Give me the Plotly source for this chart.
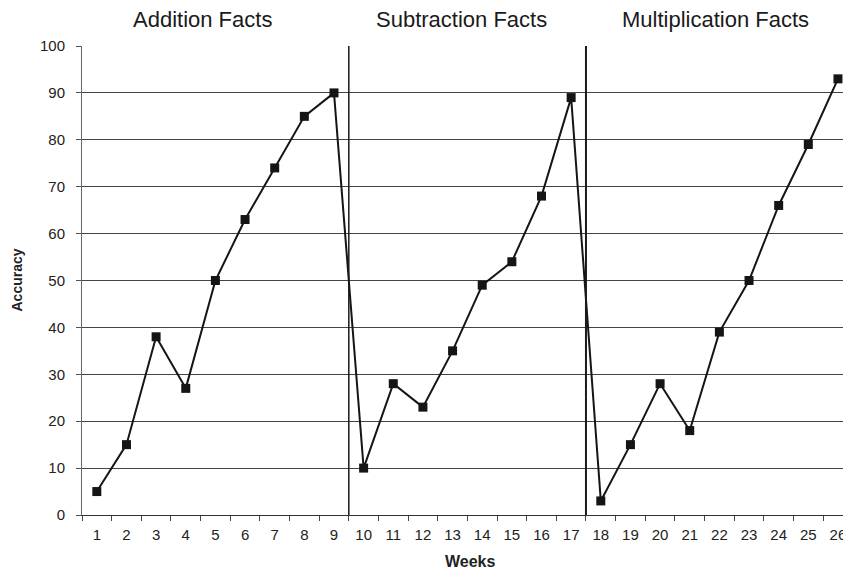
import plotly.graph_objects as go

weeks = [str(w) for w in range(1, 27)]
accuracy = [5, 15, 38, 27, 50, 63, 74, 85, 90,
            10, 28, 23, 35, 49, 54, 68, 89,
            3, 15, 28, 18, 39, 50, 66, 79, 93]
phase_titles = ["Addition Facts", "Subtraction Facts", "Multiplication Facts"]
phase_title_x = [202, 461, 715]  # screen pixel centres
phase_breaks = [8.5, 16.5]  # category index boundaries
y_ticks = list(range(0, 101, 10))

O = 8  # page body margin offset
W, H = 851 - O, 574 - O
# desired plot area in screen pixels (visible area ends at 843)
SL, ST, SR, SB = 82, 46, 843, 515
L, T = SL - O, ST - O
R = W - (SR - O)
B = H - (SB - O)
FONT = "Liberation Sans, Arial, sans-serif"

fig = go.Figure()
fig.add_trace(go.Scatter(
    x=weeks, y=accuracy, mode="lines+markers",
    line=dict(color="#151515", width=2),
    marker=dict(symbol="square", size=9, color="#151515"),
    showlegend=False, hoverinfo="skip", cliponaxis=False))

for i, xb in enumerate(phase_breaks):
    fig.add_shape(type="line", xref="x", yref="y", x0=xb, x1=xb, y0=0, y1=100,
                  line=dict(color="#1a1a1a", width=1.5 if i == 0 else 2))

plot_w = SR - SL
plot_h = SB - ST


def px_x(sx):
    return (sx - SL) / plot_w


def px_y(sy):
    return (SB - sy) / plot_h


for title, px in zip(phase_titles, phase_title_x):
    fig.add_annotation(text=title, xref="paper", yref="paper",
                       x=px_x(px), y=px_y(20),
                       xanchor="center", yanchor="middle", showarrow=False,
                       font=dict(family=FONT, size=22, color="#1a1a1a"))

fig.add_annotation(text="<b>Weeks</b>", xref="paper", yref="paper",
                   x=px_x(470), y=px_y(561),
                   xanchor="center", yanchor="middle", showarrow=False,
                   font=dict(family=FONT, size=16, color="#222"))
fig.add_annotation(text="<b>Accuracy</b>", xref="paper", yref="paper",
                   x=px_x(16), y=0.5, textangle=-90,
                   xanchor="center", yanchor="middle", showarrow=False,
                   font=dict(family=FONT, size=14, color="#222"))

fig.update_xaxes(
    type="category", range=[-0.5, 25.17], tickson="boundaries", automargin=False,
    ticks="outside", ticklen=5, tickcolor="#444", showgrid=False,
    showline=True, linecolor="#333", linewidth=1, ticklabelstandoff=6,
    tickfont=dict(family=FONT, size=15, color="#222"))
fig.update_yaxes(
    range=[0, 100], tickvals=y_ticks, ticks="outside", ticklen=5, tickcolor="#555",
    showgrid=True, gridcolor="#444", gridwidth=1, automargin=False,
    showline=True, linecolor="#666", linewidth=1, zeroline=False, ticklabelstandoff=8,
    tickfont=dict(family=FONT, size=15, color="#222"))

fig.update_layout(width=W, height=H, margin=dict(l=L, r=R, t=T, b=B),
                  plot_bgcolor="white", paper_bgcolor="white")
fig.write_html("out.html")
